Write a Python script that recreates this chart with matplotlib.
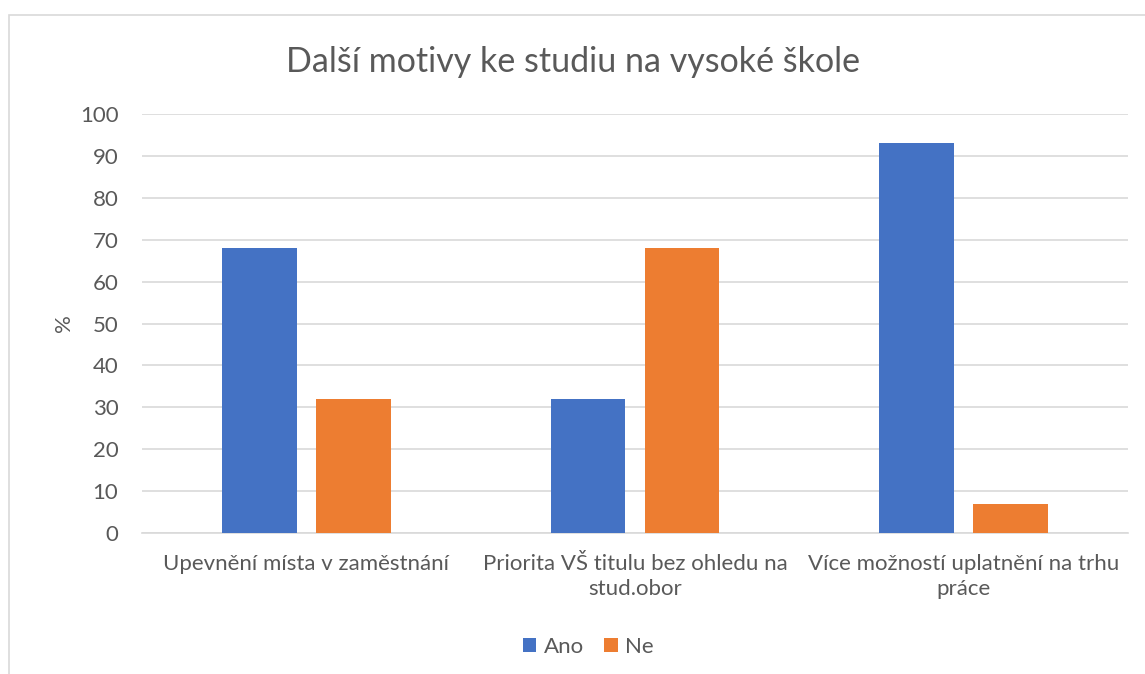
import numpy as np
import matplotlib.pyplot as plt
from matplotlib.patches import Rectangle

plt.rcParams['font.family'] = ['Lato', 'DejaVu Sans']

# data
kategorie = ['Upevnění místa v zaměstnání',
             'Priorita VŠ titulu bez ohledu na\nstud.obor',
             'Více možností uplatnění na trhu\npráce']
ano = [68, 32, 93]
ne = [32, 68, 7]

text_c = '#595959'
grid_c = '#d9d9d9'

fig = plt.figure(figsize=(11.45, 6.74), dpi=100)
fig.patches.append(Rectangle((9 / 1145, -0.1), 1.2, (674 - 15) / 674 + 0.1,
                             transform=fig.transFigure, fill=False,
                             edgecolor=grid_c, linewidth=1.2))

ax = fig.add_axes([142 / 1145, 141 / 674, 986 / 1145, 419 / 674])
x = np.arange(len(kategorie))
w = 0.228
ax.bar(x - 0.143, ano, w, color='#4472c4', label='Ano', zorder=3)
ax.bar(x + 0.143, ne, w, color='#ed7d31', label='Ne', zorder=3)

ax.set_xlim(-0.5, 2.5)
ax.set_ylim(0, 100)
ax.set_yticks(range(0, 101, 10))
ax.yaxis.grid(True, color=grid_c, linewidth=1.2, zorder=0)
for s in ['top', 'right', 'left']:
    ax.spines[s].set_visible(False)
ax.spines['bottom'].set_color(grid_c)
ax.spines['bottom'].set_linewidth(1.2)
ax.tick_params(length=0, labelsize=16, colors=text_c)
ax.tick_params(axis='y', pad=17)
ax.tick_params(axis='x', pad=15)
ax.set_xticks(x)
ax.set_xticklabels(kategorie, linespacing=1.3)
ax.set_ylabel('%', fontsize=16, color=text_c, labelpad=4)

fig.text(0.5, 0.908, 'Další motivy ke studiu na vysoké škole', ha='center',
         va='center', fontsize=24.5, color=text_c)
fig.legend(loc='center', bbox_to_anchor=(0.514, 0.04), ncol=2, frameon=False,
           fontsize=16, labelcolor=text_c, handlelength=0.6, handleheight=0.6,
           handletextpad=0.35, columnspacing=0.9)

fig.savefig('out.png', dpi=100)
